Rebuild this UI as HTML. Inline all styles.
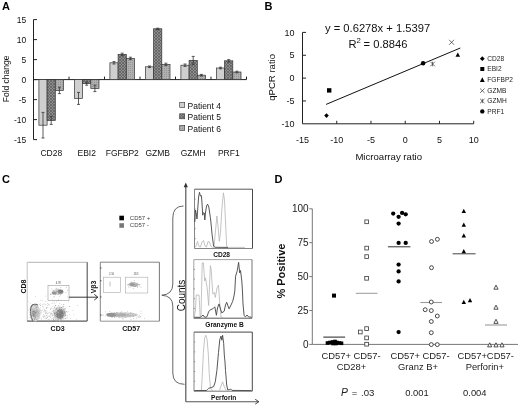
<!DOCTYPE html>
<html><head><meta charset="utf-8"><style>
html,body{margin:0;padding:0;background:#fff;width:520px;height:405px;overflow:hidden}
svg{display:block;filter:grayscale(1)}
text{font-family:"Liberation Sans",sans-serif}
</style></head><body>
<svg width="520" height="405" viewBox="0 0 520 405">
<defs>
<filter id="bl" x="-20%" y="-20%" width="140%" height="140%"><feGaussianBlur stdDeviation="0.7"/></filter>
<pattern id="p5" width="3" height="3" patternUnits="userSpaceOnUse"><rect width="3" height="3" fill="#8e8e8e"/><path d="M0 0L3 3M3 0L0 3" stroke="#5a5a5a" stroke-width="0.7"/></pattern>
<pattern id="p6" width="2" height="2" patternUnits="userSpaceOnUse"><rect width="2" height="2" fill="#b0b0b0"/><rect width="1" height="1" fill="#959595"/></pattern>
</defs>
<rect width="520" height="405" fill="#fff"/>
<text x="2.00" y="10.00" font-size="11" text-anchor="start" font-weight="bold" fill="#000" >A</text>
<line x1="33.50" y1="19.60" x2="33.50" y2="139.60" stroke="#222" stroke-width="1"/>
<line x1="33.50" y1="19.60" x2="37.00" y2="19.60" stroke="#222" stroke-width="1"/>
<text x="26.30" y="22.70" font-size="8.5" text-anchor="end" font-weight="normal" fill="#111" >15</text>
<line x1="33.50" y1="39.60" x2="37.00" y2="39.60" stroke="#222" stroke-width="1"/>
<text x="26.30" y="42.70" font-size="8.5" text-anchor="end" font-weight="normal" fill="#111" >10</text>
<line x1="33.50" y1="59.60" x2="37.00" y2="59.60" stroke="#222" stroke-width="1"/>
<text x="26.30" y="62.70" font-size="8.5" text-anchor="end" font-weight="normal" fill="#111" >5</text>
<line x1="33.50" y1="79.60" x2="37.00" y2="79.60" stroke="#222" stroke-width="1"/>
<text x="26.30" y="82.70" font-size="8.5" text-anchor="end" font-weight="normal" fill="#111" >0</text>
<line x1="33.50" y1="99.60" x2="37.00" y2="99.60" stroke="#222" stroke-width="1"/>
<text x="26.30" y="102.70" font-size="8.5" text-anchor="end" font-weight="normal" fill="#111" >-5</text>
<line x1="33.50" y1="119.60" x2="37.00" y2="119.60" stroke="#222" stroke-width="1"/>
<text x="26.30" y="122.70" font-size="8.5" text-anchor="end" font-weight="normal" fill="#111" >-10</text>
<line x1="33.50" y1="139.60" x2="37.00" y2="139.60" stroke="#222" stroke-width="1"/>
<text x="26.30" y="142.70" font-size="8.5" text-anchor="end" font-weight="normal" fill="#111" >-15</text>
<line x1="33.50" y1="79.60" x2="246.50" y2="79.60" stroke="#222" stroke-width="1"/>
<line x1="69.00" y1="79.60" x2="69.00" y2="76.60" stroke="#222" stroke-width="1"/>
<line x1="104.50" y1="79.60" x2="104.50" y2="76.60" stroke="#222" stroke-width="1"/>
<line x1="140.00" y1="79.60" x2="140.00" y2="76.60" stroke="#222" stroke-width="1"/>
<line x1="175.50" y1="79.60" x2="175.50" y2="76.60" stroke="#222" stroke-width="1"/>
<line x1="211.00" y1="79.60" x2="211.00" y2="76.60" stroke="#222" stroke-width="1"/>
<line x1="246.50" y1="79.60" x2="246.50" y2="76.60" stroke="#222" stroke-width="1"/>
<text transform="translate(8.8,78.9) rotate(-90)" font-size="8.5" text-anchor="middle" fill="#111">Fold change</text>
<text x="51.25" y="155.70" font-size="8.5" text-anchor="middle" font-weight="normal" fill="#111" >CD28</text>
<rect x="38.90" y="79.60" width="8.20" height="45.60" fill="#cfcfcf" stroke="#333" stroke-width="0.7"/>
<line x1="43.00" y1="112.40" x2="43.00" y2="138.00" stroke="#333" stroke-width="0.8"/>
<line x1="41.50" y1="112.40" x2="44.50" y2="112.40" stroke="#333" stroke-width="0.8"/>
<line x1="41.50" y1="138.00" x2="44.50" y2="138.00" stroke="#333" stroke-width="0.8"/>
<rect x="47.10" y="79.60" width="8.20" height="40.80" fill="url(#p5)" stroke="#333" stroke-width="0.7"/>
<line x1="51.20" y1="116.40" x2="51.20" y2="124.40" stroke="#333" stroke-width="0.8"/>
<line x1="49.70" y1="116.40" x2="52.70" y2="116.40" stroke="#333" stroke-width="0.8"/>
<line x1="49.70" y1="124.40" x2="52.70" y2="124.40" stroke="#333" stroke-width="0.8"/>
<rect x="55.30" y="79.60" width="8.20" height="10.80" fill="url(#p6)" stroke="#333" stroke-width="0.7"/>
<line x1="59.40" y1="87.20" x2="59.40" y2="93.60" stroke="#333" stroke-width="0.8"/>
<line x1="57.90" y1="87.20" x2="60.90" y2="87.20" stroke="#333" stroke-width="0.8"/>
<line x1="57.90" y1="93.60" x2="60.90" y2="93.60" stroke="#333" stroke-width="0.8"/>
<text x="86.75" y="155.70" font-size="8.5" text-anchor="middle" font-weight="normal" fill="#111" >EBI2</text>
<rect x="74.40" y="79.60" width="8.20" height="18.80" fill="#cfcfcf" stroke="#333" stroke-width="0.7"/>
<line x1="78.50" y1="92.40" x2="78.50" y2="104.40" stroke="#333" stroke-width="0.8"/>
<line x1="77.00" y1="92.40" x2="80.00" y2="92.40" stroke="#333" stroke-width="0.8"/>
<line x1="77.00" y1="104.40" x2="80.00" y2="104.40" stroke="#333" stroke-width="0.8"/>
<rect x="82.60" y="79.60" width="8.20" height="4.00" fill="url(#p5)" stroke="#333" stroke-width="0.7"/>
<line x1="86.70" y1="82.00" x2="86.70" y2="85.20" stroke="#333" stroke-width="0.8"/>
<line x1="85.20" y1="82.00" x2="88.20" y2="82.00" stroke="#333" stroke-width="0.8"/>
<line x1="85.20" y1="85.20" x2="88.20" y2="85.20" stroke="#333" stroke-width="0.8"/>
<rect x="90.80" y="79.60" width="8.20" height="8.80" fill="url(#p6)" stroke="#333" stroke-width="0.7"/>
<line x1="94.90" y1="85.20" x2="94.90" y2="91.60" stroke="#333" stroke-width="0.8"/>
<line x1="93.40" y1="85.20" x2="96.40" y2="85.20" stroke="#333" stroke-width="0.8"/>
<line x1="93.40" y1="91.60" x2="96.40" y2="91.60" stroke="#333" stroke-width="0.8"/>
<text x="122.25" y="155.70" font-size="8.5" text-anchor="middle" font-weight="normal" fill="#111" >FGFBP2</text>
<rect x="109.90" y="62.80" width="8.20" height="16.80" fill="#cfcfcf" stroke="#333" stroke-width="0.7"/>
<line x1="114.00" y1="61.60" x2="114.00" y2="64.00" stroke="#333" stroke-width="0.8"/>
<line x1="112.50" y1="61.60" x2="115.50" y2="61.60" stroke="#333" stroke-width="0.8"/>
<line x1="112.50" y1="64.00" x2="115.50" y2="64.00" stroke="#333" stroke-width="0.8"/>
<rect x="118.10" y="54.40" width="8.20" height="25.20" fill="url(#p5)" stroke="#333" stroke-width="0.7"/>
<line x1="122.20" y1="53.20" x2="122.20" y2="55.60" stroke="#333" stroke-width="0.8"/>
<line x1="120.70" y1="53.20" x2="123.70" y2="53.20" stroke="#333" stroke-width="0.8"/>
<line x1="120.70" y1="55.60" x2="123.70" y2="55.60" stroke="#333" stroke-width="0.8"/>
<rect x="126.30" y="58.40" width="8.20" height="21.20" fill="url(#p6)" stroke="#333" stroke-width="0.7"/>
<line x1="130.40" y1="57.20" x2="130.40" y2="59.60" stroke="#333" stroke-width="0.8"/>
<line x1="128.90" y1="57.20" x2="131.90" y2="57.20" stroke="#333" stroke-width="0.8"/>
<line x1="128.90" y1="59.60" x2="131.90" y2="59.60" stroke="#333" stroke-width="0.8"/>
<text x="157.75" y="155.70" font-size="8.5" text-anchor="middle" font-weight="normal" fill="#111" >GZMB</text>
<rect x="145.40" y="66.80" width="8.20" height="12.80" fill="#cfcfcf" stroke="#333" stroke-width="0.7"/>
<line x1="149.50" y1="66.00" x2="149.50" y2="67.60" stroke="#333" stroke-width="0.8"/>
<line x1="148.00" y1="66.00" x2="151.00" y2="66.00" stroke="#333" stroke-width="0.8"/>
<line x1="148.00" y1="67.60" x2="151.00" y2="67.60" stroke="#333" stroke-width="0.8"/>
<rect x="153.60" y="28.80" width="8.20" height="50.80" fill="url(#p5)" stroke="#333" stroke-width="0.7"/>
<line x1="157.70" y1="28.20" x2="157.70" y2="29.40" stroke="#333" stroke-width="0.8"/>
<line x1="156.20" y1="28.20" x2="159.20" y2="28.20" stroke="#333" stroke-width="0.8"/>
<line x1="156.20" y1="29.40" x2="159.20" y2="29.40" stroke="#333" stroke-width="0.8"/>
<rect x="161.80" y="64.40" width="8.20" height="15.20" fill="url(#p6)" stroke="#333" stroke-width="0.7"/>
<line x1="165.90" y1="63.20" x2="165.90" y2="65.60" stroke="#333" stroke-width="0.8"/>
<line x1="164.40" y1="63.20" x2="167.40" y2="63.20" stroke="#333" stroke-width="0.8"/>
<line x1="164.40" y1="65.60" x2="167.40" y2="65.60" stroke="#333" stroke-width="0.8"/>
<text x="193.25" y="155.70" font-size="8.5" text-anchor="middle" font-weight="normal" fill="#111" >GZMH</text>
<rect x="180.90" y="65.20" width="8.20" height="14.40" fill="#cfcfcf" stroke="#333" stroke-width="0.7"/>
<line x1="185.00" y1="64.00" x2="185.00" y2="66.40" stroke="#333" stroke-width="0.8"/>
<line x1="183.50" y1="64.00" x2="186.50" y2="64.00" stroke="#333" stroke-width="0.8"/>
<line x1="183.50" y1="66.40" x2="186.50" y2="66.40" stroke="#333" stroke-width="0.8"/>
<rect x="189.10" y="60.40" width="8.20" height="19.20" fill="url(#p5)" stroke="#333" stroke-width="0.7"/>
<line x1="193.20" y1="56.40" x2="193.20" y2="64.40" stroke="#333" stroke-width="0.8"/>
<line x1="191.70" y1="56.40" x2="194.70" y2="56.40" stroke="#333" stroke-width="0.8"/>
<line x1="191.70" y1="64.40" x2="194.70" y2="64.40" stroke="#333" stroke-width="0.8"/>
<rect x="197.30" y="75.20" width="8.20" height="4.40" fill="url(#p6)" stroke="#333" stroke-width="0.7"/>
<line x1="201.40" y1="74.40" x2="201.40" y2="76.00" stroke="#333" stroke-width="0.8"/>
<line x1="199.90" y1="74.40" x2="202.90" y2="74.40" stroke="#333" stroke-width="0.8"/>
<line x1="199.90" y1="76.00" x2="202.90" y2="76.00" stroke="#333" stroke-width="0.8"/>
<text x="228.75" y="155.70" font-size="8.5" text-anchor="middle" font-weight="normal" fill="#111" >PRF1</text>
<rect x="216.40" y="68.00" width="8.20" height="11.60" fill="#cfcfcf" stroke="#333" stroke-width="0.7"/>
<line x1="220.50" y1="67.20" x2="220.50" y2="68.80" stroke="#333" stroke-width="0.8"/>
<line x1="219.00" y1="67.20" x2="222.00" y2="67.20" stroke="#333" stroke-width="0.8"/>
<line x1="219.00" y1="68.80" x2="222.00" y2="68.80" stroke="#333" stroke-width="0.8"/>
<rect x="224.60" y="60.80" width="8.20" height="18.80" fill="url(#p5)" stroke="#333" stroke-width="0.7"/>
<line x1="228.70" y1="59.60" x2="228.70" y2="62.00" stroke="#333" stroke-width="0.8"/>
<line x1="227.20" y1="59.60" x2="230.20" y2="59.60" stroke="#333" stroke-width="0.8"/>
<line x1="227.20" y1="62.00" x2="230.20" y2="62.00" stroke="#333" stroke-width="0.8"/>
<rect x="232.80" y="72.00" width="8.20" height="7.60" fill="url(#p6)" stroke="#333" stroke-width="0.7"/>
<line x1="236.90" y1="71.20" x2="236.90" y2="72.80" stroke="#333" stroke-width="0.8"/>
<line x1="235.40" y1="71.20" x2="238.40" y2="71.20" stroke="#333" stroke-width="0.8"/>
<line x1="235.40" y1="72.80" x2="238.40" y2="72.80" stroke="#333" stroke-width="0.8"/>
<rect x="179.7" y="102.40" width="5" height="5" fill="#cfcfcf" stroke="#333" stroke-width="0.6"/>
<text x="187.50" y="108.70" font-size="8.5" text-anchor="start" font-weight="normal" fill="#111" >Patient 4</text>
<rect x="179.7" y="113.80" width="5" height="5" fill="url(#p5)" stroke="#333" stroke-width="0.6"/>
<text x="187.50" y="120.10" font-size="8.5" text-anchor="start" font-weight="normal" fill="#111" >Patient 5</text>
<rect x="179.7" y="125.40" width="5" height="5" fill="url(#p6)" stroke="#333" stroke-width="0.6"/>
<text x="187.50" y="131.70" font-size="8.5" text-anchor="start" font-weight="normal" fill="#111" >Patient 6</text>
<text x="264.50" y="10.00" font-size="11" text-anchor="start" font-weight="bold" fill="#000" >B</text>
<line x1="302.50" y1="32.40" x2="302.50" y2="123.80" stroke="#222" stroke-width="1"/>
<line x1="302.50" y1="123.80" x2="473.70" y2="123.80" stroke="#222" stroke-width="1"/>
<line x1="302.50" y1="32.40" x2="306.00" y2="32.40" stroke="#222" stroke-width="1"/>
<line x1="302.50" y1="55.25" x2="306.00" y2="55.25" stroke="#222" stroke-width="1"/>
<line x1="302.50" y1="78.10" x2="306.00" y2="78.10" stroke="#222" stroke-width="1"/>
<line x1="302.50" y1="100.95" x2="306.00" y2="100.95" stroke="#222" stroke-width="1"/>
<text x="294.60" y="35.60" font-size="9" text-anchor="end" font-weight="normal" fill="#111" >10</text>
<text x="294.60" y="58.45" font-size="9" text-anchor="end" font-weight="normal" fill="#111" >5</text>
<text x="294.60" y="81.30" font-size="9" text-anchor="end" font-weight="normal" fill="#111" >0</text>
<text x="294.60" y="104.15" font-size="9" text-anchor="end" font-weight="normal" fill="#111" >-5</text>
<text x="294.60" y="127.00" font-size="9" text-anchor="end" font-weight="normal" fill="#111" >-10</text>
<line x1="336.74" y1="123.80" x2="336.74" y2="120.80" stroke="#222" stroke-width="1"/>
<line x1="370.98" y1="123.80" x2="370.98" y2="120.80" stroke="#222" stroke-width="1"/>
<line x1="405.22" y1="123.80" x2="405.22" y2="120.80" stroke="#222" stroke-width="1"/>
<line x1="439.46" y1="123.80" x2="439.46" y2="120.80" stroke="#222" stroke-width="1"/>
<line x1="473.70" y1="123.80" x2="473.70" y2="120.80" stroke="#222" stroke-width="1"/>
<text x="302.50" y="142.80" font-size="9" text-anchor="middle" font-weight="normal" fill="#111" >-15</text>
<text x="336.74" y="142.80" font-size="9" text-anchor="middle" font-weight="normal" fill="#111" >-10</text>
<text x="370.98" y="142.80" font-size="9" text-anchor="middle" font-weight="normal" fill="#111" >-5</text>
<text x="405.22" y="142.80" font-size="9" text-anchor="middle" font-weight="normal" fill="#111" >0</text>
<text x="439.46" y="142.80" font-size="9" text-anchor="middle" font-weight="normal" fill="#111" >5</text>
<text x="473.70" y="142.80" font-size="9" text-anchor="middle" font-weight="normal" fill="#111" >10</text>
<text transform="translate(275.2,77.4) rotate(-90)" font-size="9.6" text-anchor="middle" fill="#111">qPCR ratio</text>
<text x="388.70" y="159.60" font-size="9.6" text-anchor="middle" font-weight="normal" fill="#111" >Microarray ratio</text>
<text x="325.00" y="32.40" font-size="11.2" text-anchor="start" font-weight="normal" fill="#111" >y = 0.6278x + 1.5397</text>
<text x="348.4" y="47.7" font-size="11.2" fill="#111">R<tspan font-size="7.8" dy="-4.9">2</tspan><tspan dy="4.9" dx="-0.4"> = 0.8846</tspan></text>
<line x1="326.10" y1="104.40" x2="460.30" y2="48.00" stroke="#111" stroke-width="1"/>
<path d="M326.5 113.3 L328.8 115.6 L326.5 117.89999999999999 L324.2 115.6 Z" fill="#000"/>
<rect x="327.00" y="88.20" width="4.4" height="4.4" fill="#000" stroke="none" stroke-width="0"/>
<path d="M457.80 52.43 L460.10 56.87 L455.50 56.87 Z" fill="#000" stroke="none" stroke-width="0"/>
<line x1="449.10" y1="39.80" x2="454.10" y2="44.80" stroke="#333" stroke-width="0.7"/>
<line x1="449.10" y1="44.80" x2="454.10" y2="39.80" stroke="#333" stroke-width="0.7"/>
<line x1="430.30" y1="61.70" x2="434.90" y2="66.30" stroke="#333" stroke-width="0.7"/>
<line x1="430.30" y1="66.30" x2="434.90" y2="61.70" stroke="#333" stroke-width="0.7"/>
<line x1="432.60" y1="61.70" x2="432.60" y2="66.30" stroke="#333" stroke-width="0.7"/>
<circle cx="423.10" cy="63.30" r="2.2" fill="#000" stroke="none" stroke-width="0"/>
<path d="M482.3 56.300000000000004 L484.7 58.7 L482.3 61.1 L479.90000000000003 58.7 Z" fill="#000"/>
<text x="487.30" y="61.10" font-size="6.6" text-anchor="start" font-weight="normal" fill="#222" >CD28</text>
<rect x="480.30" y="67.00" width="4.0" height="4.0" fill="#000" stroke="none" stroke-width="0"/>
<text x="487.30" y="71.40" font-size="6.6" text-anchor="start" font-weight="normal" fill="#222" >EBI2</text>
<path d="M482.30 77.34 L484.70 81.96 L479.90 81.96 Z" fill="#000" stroke="none" stroke-width="0"/>
<text x="487.30" y="82.20" font-size="6.6" text-anchor="start" font-weight="normal" fill="#222" >FGFBP2</text>
<line x1="480.10" y1="88.50" x2="484.50" y2="92.90" stroke="#333" stroke-width="0.7"/>
<line x1="480.10" y1="92.90" x2="484.50" y2="88.50" stroke="#333" stroke-width="0.7"/>
<text x="487.30" y="93.10" font-size="6.6" text-anchor="start" font-weight="normal" fill="#222" >GZMB</text>
<line x1="480.10" y1="98.80" x2="484.50" y2="103.20" stroke="#333" stroke-width="0.7"/>
<line x1="480.10" y1="103.20" x2="484.50" y2="98.80" stroke="#333" stroke-width="0.7"/>
<line x1="482.30" y1="98.80" x2="482.30" y2="103.20" stroke="#333" stroke-width="0.7"/>
<text x="487.30" y="103.40" font-size="6.6" text-anchor="start" font-weight="normal" fill="#222" >GZMH</text>
<circle cx="482.30" cy="111.40" r="2.2" fill="#000" stroke="none" stroke-width="0"/>
<text x="487.30" y="113.80" font-size="6.6" text-anchor="start" font-weight="normal" fill="#222" >PRF1</text>
<text x="2.00" y="183.00" font-size="11" text-anchor="start" font-weight="bold" fill="#000" >C</text>
<rect x="119.35" y="215.70" width="4.6" height="4.6" fill="#000" stroke="none" stroke-width="0"/>
<rect x="119.35" y="223.20" width="4.6" height="4.6" fill="#777" stroke="none" stroke-width="0"/>
<text x="129.80" y="219.90" font-size="6" text-anchor="start" font-weight="normal" fill="#444" >CD57 +</text>
<text x="129.80" y="227.40" font-size="6" text-anchor="start" font-weight="normal" fill="#444" >CD57 -</text>
<line x1="27.20" y1="262.30" x2="87.20" y2="262.30" stroke="#aaa" stroke-width="0.9"/>
<line x1="27.20" y1="262.30" x2="27.20" y2="321.10" stroke="#bbb" stroke-width="0.9"/>
<line x1="87.20" y1="262.30" x2="87.20" y2="321.10" stroke="#555" stroke-width="1.1"/>
<line x1="27.20" y1="321.10" x2="87.20" y2="321.10" stroke="#333" stroke-width="1"/>
<rect x="48" y="285.3" width="21" height="15" fill="none" stroke="#999" stroke-width="0.6"/>
<text x="58.30" y="284.30" font-size="2.6" text-anchor="middle" font-weight="normal" fill="#444" >4.78</text>
<line x1="69.00" y1="297.20" x2="97.60" y2="297.20" stroke="#222" stroke-width="0.9"/>
<path d="M94.3 294.4 L97.9 297.2 L94.3 300" fill="none" stroke="#222" stroke-width="0.9"/>
<text transform="translate(26.1,286.6) rotate(-90)" font-size="7" font-weight="bold" text-anchor="middle" fill="#111">CD8</text>
<text x="57.60" y="330.70" font-size="7" text-anchor="middle" font-weight="bold" fill="#111" >CD3</text>
<g filter="url(#bl)">
<ellipse cx="35" cy="313" rx="5.5" ry="8.5" fill="#d6d6d6"/>
<path d="M38 305 Q31 302 30.5 310 Q30.8 318 33 321" fill="none" stroke="#666" stroke-width="1.1"/>
<ellipse cx="33.8" cy="313.5" rx="1.6" ry="3" fill="#999"/>
<ellipse cx="59.5" cy="313.5" rx="6" ry="7" fill="#cfcfcf"/>
<ellipse cx="60" cy="314" rx="3.8" ry="4.8" fill="#8c8c8c"/>
<ellipse cx="57.5" cy="292" rx="6" ry="3" fill="#d8d8d8"/>
<ellipse cx="60.5" cy="291.5" rx="2.8" ry="2" fill="#7a7a7a"/>
<ellipse cx="54" cy="293" rx="2.2" ry="1.5" fill="#909090"/>
</g>
<rect x="44.2" y="315.1" width="0.7" height="0.7" fill="#b8b8b8"/><rect x="44.5" y="310.1" width="0.7" height="0.7" fill="#b8b8b8"/><rect x="36.8" y="310.7" width="0.7" height="0.7" fill="#b8b8b8"/><rect x="59.2" y="314.5" width="0.7" height="0.7" fill="#b8b8b8"/><rect x="58.4" y="313.5" width="0.7" height="0.7" fill="#b8b8b8"/><rect x="51.3" y="313.1" width="0.7" height="0.7" fill="#b8b8b8"/><rect x="28.7" y="317.1" width="0.7" height="0.7" fill="#b8b8b8"/><rect x="52.6" y="315.0" width="0.7" height="0.7" fill="#b8b8b8"/><rect x="28.4" y="301.5" width="0.7" height="0.7" fill="#b8b8b8"/><rect x="37.2" y="309.2" width="0.7" height="0.7" fill="#b8b8b8"/><rect x="50.4" y="311.7" width="0.7" height="0.7" fill="#b8b8b8"/><rect x="52.7" y="308.1" width="0.7" height="0.7" fill="#b8b8b8"/><rect x="50.4" y="314.4" width="0.7" height="0.7" fill="#b8b8b8"/><rect x="53.1" y="319.2" width="0.7" height="0.7" fill="#b8b8b8"/><rect x="40.2" y="307.6" width="0.7" height="0.7" fill="#b8b8b8"/><rect x="43.2" y="311.4" width="0.7" height="0.7" fill="#b8b8b8"/><rect x="54.0" y="313.5" width="0.7" height="0.7" fill="#b8b8b8"/><rect x="42.1" y="306.3" width="0.7" height="0.7" fill="#b8b8b8"/><rect x="41.3" y="319.3" width="0.7" height="0.7" fill="#b8b8b8"/><rect x="38.1" y="313.5" width="0.7" height="0.7" fill="#b8b8b8"/><rect x="51.7" y="303.1" width="0.7" height="0.7" fill="#b8b8b8"/><rect x="47.5" y="319.8" width="0.7" height="0.7" fill="#b8b8b8"/><rect x="45.8" y="307.1" width="0.7" height="0.7" fill="#b8b8b8"/><rect x="52.5" y="311.6" width="0.7" height="0.7" fill="#b8b8b8"/><rect x="30.9" y="317.0" width="0.7" height="0.7" fill="#b8b8b8"/><rect x="54.4" y="317.7" width="0.7" height="0.7" fill="#b8b8b8"/><rect x="62.8" y="314.2" width="0.7" height="0.7" fill="#b8b8b8"/><rect x="48.3" y="304.2" width="0.7" height="0.7" fill="#b8b8b8"/><rect x="53.8" y="308.3" width="0.7" height="0.7" fill="#b8b8b8"/><rect x="42.0" y="304.4" width="0.7" height="0.7" fill="#b8b8b8"/><rect x="36.4" y="308.8" width="0.7" height="0.7" fill="#b8b8b8"/><rect x="61.2" y="299.8" width="0.7" height="0.7" fill="#b8b8b8"/><rect x="31.0" y="313.4" width="0.7" height="0.7" fill="#b8b8b8"/><rect x="62.9" y="315.5" width="0.7" height="0.7" fill="#b8b8b8"/><rect x="50.9" y="307.6" width="0.7" height="0.7" fill="#b8b8b8"/><rect x="34.7" y="317.9" width="0.7" height="0.7" fill="#b8b8b8"/><rect x="59.1" y="312.9" width="0.7" height="0.7" fill="#b8b8b8"/><rect x="49.7" y="314.6" width="0.7" height="0.7" fill="#b8b8b8"/><rect x="64.5" y="315.7" width="0.7" height="0.7" fill="#b8b8b8"/><rect x="52.7" y="315.3" width="0.7" height="0.7" fill="#b8b8b8"/><rect x="29.7" y="319.7" width="0.7" height="0.7" fill="#b8b8b8"/><rect x="57.5" y="315.2" width="0.7" height="0.7" fill="#b8b8b8"/><rect x="56.3" y="301.1" width="0.7" height="0.7" fill="#b8b8b8"/><rect x="45.0" y="318.1" width="0.7" height="0.7" fill="#b8b8b8"/><rect x="53.1" y="311.1" width="0.7" height="0.7" fill="#b8b8b8"/><rect x="50.6" y="315.9" width="0.7" height="0.7" fill="#b8b8b8"/><rect x="48.3" y="318.9" width="0.7" height="0.7" fill="#b8b8b8"/><rect x="39.7" y="309.5" width="0.7" height="0.7" fill="#b8b8b8"/><rect x="58.5" y="312.2" width="0.7" height="0.7" fill="#b8b8b8"/><rect x="37.3" y="317.7" width="0.7" height="0.7" fill="#b8b8b8"/><rect x="63.1" y="309.3" width="0.7" height="0.7" fill="#b8b8b8"/><rect x="31.8" y="311.2" width="0.7" height="0.7" fill="#b8b8b8"/><rect x="45.4" y="310.2" width="0.7" height="0.7" fill="#b8b8b8"/><rect x="62.5" y="305.8" width="0.7" height="0.7" fill="#b8b8b8"/><rect x="60.9" y="304.4" width="0.7" height="0.7" fill="#b8b8b8"/><rect x="38.3" y="315.8" width="0.7" height="0.7" fill="#b8b8b8"/><rect x="59.4" y="317.2" width="0.7" height="0.7" fill="#b8b8b8"/><rect x="50.8" y="312.9" width="0.7" height="0.7" fill="#b8b8b8"/><rect x="48.7" y="315.5" width="0.7" height="0.7" fill="#b8b8b8"/><rect x="45.1" y="313.7" width="0.7" height="0.7" fill="#b8b8b8"/><rect x="53.3" y="312.0" width="0.7" height="0.7" fill="#b8b8b8"/><rect x="55.4" y="315.4" width="0.7" height="0.7" fill="#b8b8b8"/><rect x="69.1" y="313.9" width="0.7" height="0.7" fill="#b8b8b8"/><rect x="42.3" y="309.8" width="0.7" height="0.7" fill="#b8b8b8"/><rect x="46.9" y="317.5" width="0.7" height="0.7" fill="#b8b8b8"/><rect x="43.3" y="314.3" width="0.7" height="0.7" fill="#b8b8b8"/><rect x="67.2" y="296.6" width="0.7" height="0.7" fill="#b8b8b8"/><rect x="34.6" y="313.5" width="0.7" height="0.7" fill="#b8b8b8"/><rect x="51.4" y="313.4" width="0.7" height="0.7" fill="#b8b8b8"/><rect x="42.3" y="315.9" width="0.7" height="0.7" fill="#b8b8b8"/><rect x="50.1" y="308.9" width="0.7" height="0.7" fill="#b8b8b8"/><rect x="73.7" y="314.1" width="0.7" height="0.7" fill="#b8b8b8"/><rect x="40.9" y="311.4" width="0.7" height="0.7" fill="#b8b8b8"/><rect x="44.5" y="311.6" width="0.7" height="0.7" fill="#b8b8b8"/><rect x="58.1" y="305.0" width="0.7" height="0.7" fill="#b8b8b8"/><rect x="46.3" y="317.7" width="0.7" height="0.7" fill="#b8b8b8"/><rect x="56.4" y="320.9" width="0.7" height="0.7" fill="#b8b8b8"/><rect x="28.3" y="309.9" width="0.7" height="0.7" fill="#b8b8b8"/><rect x="43.2" y="315.7" width="0.7" height="0.7" fill="#b8b8b8"/><rect x="59.0" y="295.9" width="0.7" height="0.7" fill="#b8b8b8"/><rect x="59.0" y="303.3" width="0.7" height="0.7" fill="#b8b8b8"/><rect x="54.5" y="303.0" width="0.7" height="0.7" fill="#b8b8b8"/><rect x="48.9" y="319.2" width="0.7" height="0.7" fill="#b8b8b8"/><rect x="45.4" y="313.1" width="0.7" height="0.7" fill="#b8b8b8"/><rect x="55.8" y="312.8" width="0.7" height="0.7" fill="#b8b8b8"/><rect x="58.5" y="310.2" width="0.7" height="0.7" fill="#b8b8b8"/><rect x="77.2" y="305.1" width="0.7" height="0.7" fill="#b8b8b8"/><rect x="57.1" y="310.4" width="0.7" height="0.7" fill="#b8b8b8"/><rect x="48.5" y="316.2" width="0.7" height="0.7" fill="#b8b8b8"/><rect x="49.4" y="315.8" width="0.7" height="0.7" fill="#b8b8b8"/><rect x="30.2" y="302.9" width="0.7" height="0.7" fill="#b8b8b8"/><rect x="53.8" y="306.2" width="0.7" height="0.7" fill="#b8b8b8"/><rect x="35.7" y="303.2" width="0.7" height="0.7" fill="#b8b8b8"/><rect x="60.9" y="316.5" width="0.7" height="0.7" fill="#b8b8b8"/><rect x="63.2" y="306.4" width="0.7" height="0.7" fill="#b8b8b8"/><rect x="47.0" y="305.2" width="0.7" height="0.7" fill="#b8b8b8"/><rect x="57.9" y="310.9" width="0.7" height="0.7" fill="#b8b8b8"/><rect x="45.9" y="308.4" width="0.7" height="0.7" fill="#b8b8b8"/><rect x="51.4" y="314.5" width="0.7" height="0.7" fill="#b8b8b8"/><rect x="63.5" y="305.9" width="0.7" height="0.7" fill="#b8b8b8"/><rect x="59.5" y="320.9" width="0.7" height="0.7" fill="#b8b8b8"/><rect x="63.0" y="310.9" width="0.7" height="0.7" fill="#b8b8b8"/><rect x="38.8" y="318.1" width="0.7" height="0.7" fill="#b8b8b8"/><rect x="48.3" y="312.7" width="0.7" height="0.7" fill="#b8b8b8"/><rect x="62.7" y="310.4" width="0.7" height="0.7" fill="#b8b8b8"/><rect x="50.5" y="308.3" width="0.7" height="0.7" fill="#b8b8b8"/><rect x="46.9" y="317.0" width="0.7" height="0.7" fill="#b8b8b8"/><rect x="47.9" y="320.0" width="0.7" height="0.7" fill="#b8b8b8"/><rect x="46.3" y="318.2" width="0.7" height="0.7" fill="#b8b8b8"/><rect x="39.6" y="317.3" width="0.7" height="0.7" fill="#b8b8b8"/><rect x="33.4" y="311.9" width="0.7" height="0.7" fill="#b8b8b8"/><rect x="44.9" y="311.8" width="0.7" height="0.7" fill="#b8b8b8"/><rect x="40.5" y="313.4" width="0.7" height="0.7" fill="#b8b8b8"/><rect x="66.7" y="312.3" width="0.7" height="0.7" fill="#b8b8b8"/><rect x="52.8" y="318.0" width="0.7" height="0.7" fill="#b8b8b8"/><rect x="44.8" y="304.4" width="0.7" height="0.7" fill="#b8b8b8"/><rect x="40.9" y="318.4" width="0.7" height="0.7" fill="#b8b8b8"/><rect x="28.9" y="308.4" width="0.7" height="0.7" fill="#b8b8b8"/><rect x="58.1" y="316.8" width="0.7" height="0.7" fill="#b8b8b8"/><rect x="47.1" y="316.8" width="0.7" height="0.7" fill="#b8b8b8"/><rect x="48.8" y="304.9" width="0.7" height="0.7" fill="#b8b8b8"/><rect x="29.8" y="308.2" width="0.7" height="0.7" fill="#b8b8b8"/><rect x="57.2" y="308.6" width="0.7" height="0.7" fill="#b8b8b8"/><rect x="37.1" y="307.4" width="0.7" height="0.7" fill="#b8b8b8"/><rect x="30.2" y="311.3" width="0.7" height="0.7" fill="#b8b8b8"/><rect x="34.0" y="314.2" width="0.7" height="0.7" fill="#b8b8b8"/><rect x="39.9" y="300.3" width="0.7" height="0.7" fill="#b8b8b8"/><rect x="55.0" y="310.3" width="0.7" height="0.7" fill="#b8b8b8"/><rect x="50.2" y="309.2" width="0.7" height="0.7" fill="#b8b8b8"/><rect x="55.6" y="316.5" width="0.7" height="0.7" fill="#b8b8b8"/><rect x="54.3" y="314.0" width="0.7" height="0.7" fill="#b8b8b8"/><rect x="61.7" y="316.0" width="0.7" height="0.7" fill="#b8b8b8"/><rect x="52.0" y="299.5" width="0.7" height="0.7" fill="#b8b8b8"/><rect x="56.9" y="319.9" width="0.7" height="0.7" fill="#b8b8b8"/><rect x="43.7" y="309.2" width="0.7" height="0.7" fill="#b8b8b8"/><rect x="68.3" y="301.5" width="0.7" height="0.7" fill="#b8b8b8"/><rect x="36.8" y="316.1" width="0.7" height="0.7" fill="#b8b8b8"/><rect x="67.8" y="311.3" width="0.7" height="0.7" fill="#b8b8b8"/><rect x="53.2" y="317.4" width="0.7" height="0.7" fill="#b8b8b8"/><rect x="37.0" y="311.5" width="0.7" height="0.7" fill="#b8b8b8"/><rect x="50.2" y="317.0" width="0.7" height="0.7" fill="#b8b8b8"/><rect x="46.6" y="310.8" width="0.7" height="0.7" fill="#b8b8b8"/><rect x="35.8" y="309.8" width="0.7" height="0.7" fill="#b8b8b8"/><rect x="56.8" y="312.6" width="0.7" height="0.7" fill="#b8b8b8"/><rect x="37.6" y="307.0" width="0.7" height="0.7" fill="#b8b8b8"/><rect x="76.3" y="318.8" width="0.7" height="0.7" fill="#b8b8b8"/><rect x="54.0" y="296.4" width="0.7" height="0.7" fill="#b8b8b8"/><rect x="53.8" y="314.9" width="0.7" height="0.7" fill="#b8b8b8"/><rect x="65.5" y="314.6" width="0.7" height="0.7" fill="#b8b8b8"/><rect x="46.3" y="315.1" width="0.7" height="0.7" fill="#b8b8b8"/><rect x="50.6" y="307.8" width="0.7" height="0.7" fill="#b8b8b8"/><rect x="31.6" y="308.0" width="0.7" height="0.7" fill="#b8b8b8"/><rect x="50.2" y="313.1" width="0.7" height="0.7" fill="#b8b8b8"/><rect x="42.6" y="306.2" width="0.7" height="0.7" fill="#b8b8b8"/><rect x="70.3" y="318.2" width="0.7" height="0.7" fill="#b8b8b8"/><rect x="33.9" y="303.9" width="0.7" height="0.7" fill="#b8b8b8"/><rect x="65.7" y="317.9" width="0.7" height="0.7" fill="#b8b8b8"/><rect x="67.0" y="316.9" width="0.7" height="0.7" fill="#b8b8b8"/><rect x="37.4" y="313.6" width="0.7" height="0.7" fill="#b8b8b8"/><rect x="46.4" y="315.1" width="0.7" height="0.7" fill="#b8b8b8"/><rect x="39.0" y="311.3" width="0.7" height="0.7" fill="#b8b8b8"/><rect x="52.0" y="314.3" width="0.7" height="0.7" fill="#b8b8b8"/><rect x="54.0" y="313.3" width="0.7" height="0.7" fill="#b8b8b8"/><rect x="43.4" y="316.7" width="0.7" height="0.7" fill="#b8b8b8"/><rect x="47.5" y="307.0" width="0.7" height="0.7" fill="#b8b8b8"/><rect x="40.1" y="312.0" width="0.7" height="0.7" fill="#b8b8b8"/><rect x="45.8" y="312.9" width="0.7" height="0.7" fill="#b8b8b8"/><rect x="47.0" y="313.1" width="0.7" height="0.7" fill="#b8b8b8"/><rect x="45.5" y="304.4" width="0.7" height="0.7" fill="#b8b8b8"/><rect x="51.6" y="318.3" width="0.7" height="0.7" fill="#b8b8b8"/><rect x="51.8" y="310.9" width="0.7" height="0.7" fill="#b8b8b8"/><rect x="51.9" y="306.2" width="0.7" height="0.7" fill="#b8b8b8"/><rect x="36.8" y="316.4" width="0.7" height="0.7" fill="#b8b8b8"/><rect x="35.1" y="296.2" width="0.7" height="0.7" fill="#b8b8b8"/><rect x="42.8" y="303.8" width="0.7" height="0.7" fill="#b8b8b8"/><rect x="38.6" y="315.1" width="0.7" height="0.7" fill="#b8b8b8"/><rect x="52.5" y="313.1" width="0.7" height="0.7" fill="#b8b8b8"/><rect x="63.3" y="316.2" width="0.7" height="0.7" fill="#b8b8b8"/><rect x="46.8" y="315.6" width="0.7" height="0.7" fill="#b8b8b8"/><rect x="65.2" y="317.8" width="0.7" height="0.7" fill="#b8b8b8"/><rect x="58.3" y="305.5" width="0.7" height="0.7" fill="#b8b8b8"/><rect x="45.4" y="316.4" width="0.7" height="0.7" fill="#b8b8b8"/><rect x="43.7" y="318.4" width="0.7" height="0.7" fill="#b8b8b8"/><rect x="53.6" y="317.4" width="0.7" height="0.7" fill="#b8b8b8"/><rect x="60.6" y="310.7" width="0.7" height="0.7" fill="#b8b8b8"/><rect x="43.2" y="317.2" width="0.7" height="0.7" fill="#b8b8b8"/><rect x="57.8" y="312.0" width="0.7" height="0.7" fill="#b8b8b8"/><rect x="34.2" y="313.1" width="0.7" height="0.7" fill="#b8b8b8"/><rect x="51.0" y="318.8" width="0.7" height="0.7" fill="#b8b8b8"/><rect x="55.6" y="312.1" width="0.7" height="0.7" fill="#b8b8b8"/><rect x="56.4" y="315.2" width="0.7" height="0.7" fill="#b8b8b8"/><rect x="49.3" y="312.3" width="0.7" height="0.7" fill="#b8b8b8"/><rect x="44.3" y="316.1" width="0.7" height="0.7" fill="#b8b8b8"/><rect x="35.4" y="308.2" width="0.7" height="0.7" fill="#b8b8b8"/><rect x="47.1" y="303.2" width="0.7" height="0.7" fill="#b8b8b8"/><rect x="42.2" y="299.9" width="0.7" height="0.7" fill="#b8b8b8"/><rect x="39.5" y="315.4" width="0.7" height="0.7" fill="#b8b8b8"/><rect x="53.2" y="311.7" width="0.7" height="0.7" fill="#b8b8b8"/><rect x="44.4" y="303.5" width="0.7" height="0.7" fill="#b8b8b8"/><rect x="67.1" y="315.1" width="0.7" height="0.7" fill="#b8b8b8"/><rect x="59.0" y="306.7" width="0.7" height="0.7" fill="#b8b8b8"/><rect x="45.0" y="301.1" width="0.7" height="0.7" fill="#b8b8b8"/><rect x="55.6" y="317.6" width="0.7" height="0.7" fill="#b8b8b8"/><rect x="53.9" y="301.4" width="0.7" height="0.7" fill="#b8b8b8"/><rect x="40.1" y="303.6" width="0.7" height="0.7" fill="#b8b8b8"/><rect x="47.3" y="313.5" width="0.7" height="0.7" fill="#b8b8b8"/><rect x="54.0" y="316.2" width="0.7" height="0.7" fill="#b8b8b8"/><rect x="63.5" y="319.0" width="0.7" height="0.7" fill="#b8b8b8"/><rect x="32.6" y="309.0" width="0.7" height="0.7" fill="#b8b8b8"/><rect x="35.3" y="305.5" width="0.7" height="0.7" fill="#b8b8b8"/><rect x="46.1" y="312.0" width="0.7" height="0.7" fill="#b8b8b8"/><rect x="52.4" y="302.5" width="0.7" height="0.7" fill="#b8b8b8"/><rect x="33.4" y="311.9" width="0.7" height="0.7" fill="#b8b8b8"/><rect x="44.8" y="310.1" width="0.7" height="0.7" fill="#b8b8b8"/><rect x="46.3" y="307.4" width="0.7" height="0.7" fill="#b8b8b8"/><rect x="54.7" y="314.1" width="0.7" height="0.7" fill="#b8b8b8"/><rect x="46.0" y="308.0" width="0.7" height="0.7" fill="#b8b8b8"/><rect x="45.1" y="295.7" width="0.7" height="0.7" fill="#b8b8b8"/><rect x="36.2" y="312.2" width="0.7" height="0.7" fill="#b8b8b8"/><rect x="30.5" y="313.2" width="0.7" height="0.7" fill="#b8b8b8"/><rect x="48.6" y="303.7" width="0.7" height="0.7" fill="#b8b8b8"/><rect x="44.2" y="310.1" width="0.7" height="0.7" fill="#b8b8b8"/><rect x="52.1" y="315.7" width="0.7" height="0.7" fill="#b8b8b8"/><rect x="46.6" y="306.9" width="0.7" height="0.7" fill="#b8b8b8"/><rect x="45.4" y="311.6" width="0.7" height="0.7" fill="#b8b8b8"/><rect x="55.1" y="313.8" width="0.7" height="0.7" fill="#b8b8b8"/><rect x="39.1" y="303.9" width="0.7" height="0.7" fill="#b8b8b8"/><rect x="42.9" y="307.6" width="0.7" height="0.7" fill="#b8b8b8"/><rect x="34.8" y="311.3" width="0.7" height="0.7" fill="#b8b8b8"/><rect x="41.6" y="312.6" width="0.7" height="0.7" fill="#b8b8b8"/><rect x="52.8" y="309.5" width="0.7" height="0.7" fill="#b8b8b8"/><rect x="72.6" y="310.1" width="0.7" height="0.7" fill="#b8b8b8"/><rect x="59.1" y="312.7" width="0.7" height="0.7" fill="#b8b8b8"/>
<rect x="63.4" y="304.0" width="0.7" height="0.7" fill="#777"/><rect x="56.9" y="314.5" width="0.7" height="0.7" fill="#777"/><rect x="60.6" y="318.6" width="0.7" height="0.7" fill="#777"/><rect x="62.2" y="317.3" width="0.7" height="0.7" fill="#777"/><rect x="61.3" y="312.9" width="0.7" height="0.7" fill="#777"/><rect x="61.3" y="309.2" width="0.7" height="0.7" fill="#777"/><rect x="63.6" y="309.4" width="0.7" height="0.7" fill="#777"/><rect x="58.7" y="313.6" width="0.7" height="0.7" fill="#777"/><rect x="63.6" y="313.6" width="0.7" height="0.7" fill="#777"/><rect x="56.7" y="314.5" width="0.7" height="0.7" fill="#777"/><rect x="61.5" y="316.3" width="0.7" height="0.7" fill="#777"/><rect x="56.8" y="320.5" width="0.7" height="0.7" fill="#777"/><rect x="65.3" y="313.6" width="0.7" height="0.7" fill="#777"/><rect x="60.4" y="311.8" width="0.7" height="0.7" fill="#777"/><rect x="64.4" y="310.7" width="0.7" height="0.7" fill="#777"/><rect x="61.9" y="311.6" width="0.7" height="0.7" fill="#777"/><rect x="57.1" y="316.4" width="0.7" height="0.7" fill="#777"/><rect x="64.2" y="313.5" width="0.7" height="0.7" fill="#777"/><rect x="57.1" y="316.7" width="0.7" height="0.7" fill="#777"/><rect x="59.3" y="314.7" width="0.7" height="0.7" fill="#777"/><rect x="64.8" y="318.0" width="0.7" height="0.7" fill="#777"/><rect x="59.5" y="316.6" width="0.7" height="0.7" fill="#777"/><rect x="57.2" y="313.3" width="0.7" height="0.7" fill="#777"/><rect x="53.4" y="320.6" width="0.7" height="0.7" fill="#777"/><rect x="64.3" y="308.6" width="0.7" height="0.7" fill="#777"/><rect x="54.2" y="307.0" width="0.7" height="0.7" fill="#777"/><rect x="63.6" y="311.7" width="0.7" height="0.7" fill="#777"/><rect x="59.3" y="312.2" width="0.7" height="0.7" fill="#777"/><rect x="59.1" y="309.1" width="0.7" height="0.7" fill="#777"/><rect x="59.6" y="307.7" width="0.7" height="0.7" fill="#777"/><rect x="59.2" y="314.7" width="0.7" height="0.7" fill="#777"/><rect x="61.1" y="312.6" width="0.7" height="0.7" fill="#777"/><rect x="56.3" y="314.1" width="0.7" height="0.7" fill="#777"/><rect x="57.8" y="319.8" width="0.7" height="0.7" fill="#777"/><rect x="62.2" y="313.0" width="0.7" height="0.7" fill="#777"/><rect x="57.9" y="310.7" width="0.7" height="0.7" fill="#777"/><rect x="56.2" y="312.1" width="0.7" height="0.7" fill="#777"/><rect x="60.5" y="315.6" width="0.7" height="0.7" fill="#777"/><rect x="57.0" y="313.6" width="0.7" height="0.7" fill="#777"/><rect x="69.3" y="306.0" width="0.7" height="0.7" fill="#777"/><rect x="57.7" y="314.2" width="0.7" height="0.7" fill="#777"/><rect x="60.0" y="315.1" width="0.7" height="0.7" fill="#777"/><rect x="58.7" y="315.0" width="0.7" height="0.7" fill="#777"/><rect x="59.7" y="316.6" width="0.7" height="0.7" fill="#777"/><rect x="52.9" y="310.0" width="0.7" height="0.7" fill="#777"/><rect x="59.5" y="309.4" width="0.7" height="0.7" fill="#777"/><rect x="55.8" y="316.0" width="0.7" height="0.7" fill="#777"/><rect x="57.2" y="316.0" width="0.7" height="0.7" fill="#777"/><rect x="62.1" y="314.7" width="0.7" height="0.7" fill="#777"/><rect x="61.3" y="313.1" width="0.7" height="0.7" fill="#777"/><rect x="54.6" y="313.4" width="0.7" height="0.7" fill="#777"/><rect x="61.1" y="311.4" width="0.7" height="0.7" fill="#777"/><rect x="59.2" y="316.5" width="0.7" height="0.7" fill="#777"/><rect x="56.4" y="316.1" width="0.7" height="0.7" fill="#777"/><rect x="66.0" y="311.3" width="0.7" height="0.7" fill="#777"/><rect x="60.0" y="312.9" width="0.7" height="0.7" fill="#777"/><rect x="64.9" y="314.8" width="0.7" height="0.7" fill="#777"/><rect x="62.6" y="310.7" width="0.7" height="0.7" fill="#777"/><rect x="59.4" y="313.5" width="0.7" height="0.7" fill="#777"/><rect x="53.3" y="319.3" width="0.7" height="0.7" fill="#777"/><rect x="62.6" y="306.5" width="0.7" height="0.7" fill="#777"/><rect x="62.1" y="313.0" width="0.7" height="0.7" fill="#777"/><rect x="61.1" y="315.0" width="0.7" height="0.7" fill="#777"/><rect x="54.3" y="312.7" width="0.7" height="0.7" fill="#777"/><rect x="64.7" y="311.2" width="0.7" height="0.7" fill="#777"/><rect x="55.9" y="308.1" width="0.7" height="0.7" fill="#777"/><rect x="55.2" y="314.8" width="0.7" height="0.7" fill="#777"/><rect x="65.4" y="315.2" width="0.7" height="0.7" fill="#777"/><rect x="57.7" y="310.8" width="0.7" height="0.7" fill="#777"/><rect x="61.3" y="315.7" width="0.7" height="0.7" fill="#777"/><rect x="55.9" y="308.8" width="0.7" height="0.7" fill="#777"/><rect x="60.5" y="314.5" width="0.7" height="0.7" fill="#777"/><rect x="54.9" y="312.7" width="0.7" height="0.7" fill="#777"/><rect x="57.6" y="315.3" width="0.7" height="0.7" fill="#777"/><rect x="59.1" y="313.2" width="0.7" height="0.7" fill="#777"/><rect x="58.3" y="317.7" width="0.7" height="0.7" fill="#777"/><rect x="64.4" y="312.0" width="0.7" height="0.7" fill="#777"/><rect x="62.5" y="310.5" width="0.7" height="0.7" fill="#777"/><rect x="59.8" y="316.5" width="0.7" height="0.7" fill="#777"/><rect x="64.8" y="312.0" width="0.7" height="0.7" fill="#777"/><rect x="59.2" y="314.3" width="0.7" height="0.7" fill="#777"/><rect x="54.3" y="313.6" width="0.7" height="0.7" fill="#777"/><rect x="57.1" y="315.0" width="0.7" height="0.7" fill="#777"/><rect x="55.5" y="305.6" width="0.7" height="0.7" fill="#777"/><rect x="59.6" y="314.5" width="0.7" height="0.7" fill="#777"/><rect x="57.6" y="317.1" width="0.7" height="0.7" fill="#777"/><rect x="58.5" y="311.1" width="0.7" height="0.7" fill="#777"/><rect x="61.2" y="307.2" width="0.7" height="0.7" fill="#777"/><rect x="57.1" y="313.4" width="0.7" height="0.7" fill="#777"/><rect x="62.5" y="312.8" width="0.7" height="0.7" fill="#777"/><rect x="60.6" y="310.9" width="0.7" height="0.7" fill="#777"/><rect x="60.6" y="320.2" width="0.7" height="0.7" fill="#777"/><rect x="57.2" y="313.6" width="0.7" height="0.7" fill="#777"/><rect x="60.1" y="317.6" width="0.7" height="0.7" fill="#777"/><rect x="55.2" y="305.1" width="0.7" height="0.7" fill="#777"/><rect x="61.6" y="316.7" width="0.7" height="0.7" fill="#777"/><rect x="60.2" y="314.5" width="0.7" height="0.7" fill="#777"/><rect x="62.8" y="315.0" width="0.7" height="0.7" fill="#777"/><rect x="65.3" y="308.5" width="0.7" height="0.7" fill="#777"/><rect x="58.2" y="299.7" width="0.7" height="0.7" fill="#777"/><rect x="62.3" y="312.0" width="0.7" height="0.7" fill="#777"/><rect x="59.5" y="312.5" width="0.7" height="0.7" fill="#777"/><rect x="57.8" y="310.1" width="0.7" height="0.7" fill="#777"/><rect x="57.3" y="316.1" width="0.7" height="0.7" fill="#777"/><rect x="59.6" y="313.8" width="0.7" height="0.7" fill="#777"/><rect x="58.9" y="317.2" width="0.7" height="0.7" fill="#777"/><rect x="61.2" y="312.9" width="0.7" height="0.7" fill="#777"/><rect x="61.8" y="312.9" width="0.7" height="0.7" fill="#777"/><rect x="55.5" y="319.3" width="0.7" height="0.7" fill="#777"/><rect x="61.1" y="309.7" width="0.7" height="0.7" fill="#777"/><rect x="63.3" y="314.9" width="0.7" height="0.7" fill="#777"/><rect x="54.0" y="319.9" width="0.7" height="0.7" fill="#777"/>
<rect x="35.3" y="316.6" width="0.7" height="0.7" fill="#888"/><rect x="35.0" y="312.4" width="0.7" height="0.7" fill="#888"/><rect x="30.6" y="316.9" width="0.7" height="0.7" fill="#888"/><rect x="34.6" y="311.9" width="0.7" height="0.7" fill="#888"/><rect x="35.4" y="313.3" width="0.7" height="0.7" fill="#888"/><rect x="36.2" y="311.5" width="0.7" height="0.7" fill="#888"/><rect x="34.4" y="304.4" width="0.7" height="0.7" fill="#888"/><rect x="33.4" y="315.7" width="0.7" height="0.7" fill="#888"/><rect x="37.8" y="311.5" width="0.7" height="0.7" fill="#888"/><rect x="34.2" y="319.3" width="0.7" height="0.7" fill="#888"/><rect x="33.7" y="315.9" width="0.7" height="0.7" fill="#888"/><rect x="38.7" y="313.2" width="0.7" height="0.7" fill="#888"/><rect x="37.6" y="310.2" width="0.7" height="0.7" fill="#888"/><rect x="35.0" y="312.7" width="0.7" height="0.7" fill="#888"/><rect x="34.8" y="317.5" width="0.7" height="0.7" fill="#888"/><rect x="40.5" y="310.3" width="0.7" height="0.7" fill="#888"/><rect x="33.1" y="315.0" width="0.7" height="0.7" fill="#888"/><rect x="31.9" y="315.0" width="0.7" height="0.7" fill="#888"/><rect x="35.9" y="311.9" width="0.7" height="0.7" fill="#888"/><rect x="35.8" y="306.8" width="0.7" height="0.7" fill="#888"/><rect x="36.4" y="306.8" width="0.7" height="0.7" fill="#888"/><rect x="32.8" y="310.8" width="0.7" height="0.7" fill="#888"/><rect x="33.5" y="316.4" width="0.7" height="0.7" fill="#888"/><rect x="34.7" y="311.4" width="0.7" height="0.7" fill="#888"/><rect x="35.9" y="319.3" width="0.7" height="0.7" fill="#888"/><rect x="34.5" y="314.5" width="0.7" height="0.7" fill="#888"/><rect x="37.6" y="314.1" width="0.7" height="0.7" fill="#888"/><rect x="40.0" y="305.1" width="0.7" height="0.7" fill="#888"/><rect x="34.4" y="314.7" width="0.7" height="0.7" fill="#888"/><rect x="36.9" y="315.7" width="0.7" height="0.7" fill="#888"/><rect x="33.8" y="308.8" width="0.7" height="0.7" fill="#888"/><rect x="34.8" y="317.1" width="0.7" height="0.7" fill="#888"/><rect x="31.8" y="308.9" width="0.7" height="0.7" fill="#888"/><rect x="34.4" y="305.3" width="0.7" height="0.7" fill="#888"/><rect x="33.8" y="311.3" width="0.7" height="0.7" fill="#888"/><rect x="35.6" y="310.2" width="0.7" height="0.7" fill="#888"/><rect x="32.3" y="311.4" width="0.7" height="0.7" fill="#888"/><rect x="34.4" y="310.3" width="0.7" height="0.7" fill="#888"/><rect x="34.5" y="316.0" width="0.7" height="0.7" fill="#888"/><rect x="37.5" y="319.8" width="0.7" height="0.7" fill="#888"/><rect x="32.5" y="311.3" width="0.7" height="0.7" fill="#888"/><rect x="28.3" y="320.6" width="0.7" height="0.7" fill="#888"/><rect x="32.7" y="312.9" width="0.7" height="0.7" fill="#888"/><rect x="35.8" y="307.6" width="0.7" height="0.7" fill="#888"/><rect x="35.7" y="312.9" width="0.7" height="0.7" fill="#888"/><rect x="29.9" y="314.2" width="0.7" height="0.7" fill="#888"/><rect x="37.5" y="305.5" width="0.7" height="0.7" fill="#888"/><rect x="36.5" y="313.8" width="0.7" height="0.7" fill="#888"/><rect x="35.7" y="314.8" width="0.7" height="0.7" fill="#888"/><rect x="37.8" y="312.1" width="0.7" height="0.7" fill="#888"/><rect x="36.7" y="311.4" width="0.7" height="0.7" fill="#888"/><rect x="36.3" y="309.7" width="0.7" height="0.7" fill="#888"/><rect x="34.2" y="319.9" width="0.7" height="0.7" fill="#888"/><rect x="35.6" y="312.4" width="0.7" height="0.7" fill="#888"/><rect x="31.6" y="309.8" width="0.7" height="0.7" fill="#888"/><rect x="35.0" y="316.8" width="0.7" height="0.7" fill="#888"/><rect x="35.6" y="315.1" width="0.7" height="0.7" fill="#888"/><rect x="34.4" y="318.4" width="0.7" height="0.7" fill="#888"/><rect x="33.5" y="310.8" width="0.7" height="0.7" fill="#888"/>
<rect x="60.6" y="292.1" width="0.7" height="0.7" fill="#999"/><rect x="55.9" y="290.8" width="0.7" height="0.7" fill="#999"/><rect x="56.0" y="293.2" width="0.7" height="0.7" fill="#999"/><rect x="58.4" y="289.6" width="0.7" height="0.7" fill="#999"/><rect x="58.7" y="292.4" width="0.7" height="0.7" fill="#999"/><rect x="53.0" y="293.5" width="0.7" height="0.7" fill="#999"/><rect x="55.9" y="291.3" width="0.7" height="0.7" fill="#999"/><rect x="60.2" y="294.6" width="0.7" height="0.7" fill="#999"/><rect x="54.2" y="292.9" width="0.7" height="0.7" fill="#999"/><rect x="53.5" y="296.6" width="0.7" height="0.7" fill="#999"/><rect x="55.0" y="294.4" width="0.7" height="0.7" fill="#999"/><rect x="54.4" y="293.6" width="0.7" height="0.7" fill="#999"/><rect x="65.9" y="286.9" width="0.7" height="0.7" fill="#999"/><rect x="55.3" y="293.0" width="0.7" height="0.7" fill="#999"/><rect x="56.6" y="290.7" width="0.7" height="0.7" fill="#999"/><rect x="65.6" y="292.2" width="0.7" height="0.7" fill="#999"/><rect x="50.4" y="293.7" width="0.7" height="0.7" fill="#999"/><rect x="50.1" y="294.3" width="0.7" height="0.7" fill="#999"/><rect x="54.7" y="292.3" width="0.7" height="0.7" fill="#999"/><rect x="62.0" y="292.2" width="0.7" height="0.7" fill="#999"/><rect x="51.4" y="288.6" width="0.7" height="0.7" fill="#999"/><rect x="61.7" y="293.5" width="0.7" height="0.7" fill="#999"/><rect x="53.7" y="293.7" width="0.7" height="0.7" fill="#999"/><rect x="59.0" y="293.3" width="0.7" height="0.7" fill="#999"/><rect x="60.6" y="293.5" width="0.7" height="0.7" fill="#999"/><rect x="60.5" y="287.1" width="0.7" height="0.7" fill="#999"/><rect x="57.7" y="293.0" width="0.7" height="0.7" fill="#999"/><rect x="67.2" y="290.1" width="0.7" height="0.7" fill="#999"/><rect x="55.7" y="292.1" width="0.7" height="0.7" fill="#999"/><rect x="60.5" y="291.1" width="0.7" height="0.7" fill="#999"/><rect x="61.6" y="290.4" width="0.7" height="0.7" fill="#999"/><rect x="58.1" y="290.9" width="0.7" height="0.7" fill="#999"/><rect x="57.6" y="290.6" width="0.7" height="0.7" fill="#999"/><rect x="50.6" y="294.2" width="0.7" height="0.7" fill="#999"/><rect x="58.2" y="290.9" width="0.7" height="0.7" fill="#999"/><rect x="57.8" y="294.0" width="0.7" height="0.7" fill="#999"/><rect x="53.1" y="291.8" width="0.7" height="0.7" fill="#999"/><rect x="59.2" y="293.1" width="0.7" height="0.7" fill="#999"/><rect x="55.7" y="287.8" width="0.7" height="0.7" fill="#999"/><rect x="62.0" y="292.7" width="0.7" height="0.7" fill="#999"/><rect x="57.1" y="291.4" width="0.7" height="0.7" fill="#999"/><rect x="58.1" y="291.1" width="0.7" height="0.7" fill="#999"/><rect x="52.9" y="290.5" width="0.7" height="0.7" fill="#999"/><rect x="54.6" y="290.8" width="0.7" height="0.7" fill="#999"/><rect x="52.4" y="293.3" width="0.7" height="0.7" fill="#999"/><rect x="51.8" y="293.3" width="0.7" height="0.7" fill="#999"/><rect x="52.9" y="292.7" width="0.7" height="0.7" fill="#999"/><rect x="62.5" y="292.4" width="0.7" height="0.7" fill="#999"/><rect x="54.1" y="292.1" width="0.7" height="0.7" fill="#999"/><rect x="57.6" y="288.5" width="0.7" height="0.7" fill="#999"/><rect x="54.6" y="292.3" width="0.7" height="0.7" fill="#999"/><rect x="55.1" y="292.2" width="0.7" height="0.7" fill="#999"/><rect x="59.9" y="293.5" width="0.7" height="0.7" fill="#999"/><rect x="60.6" y="293.2" width="0.7" height="0.7" fill="#999"/><rect x="55.8" y="292.0" width="0.7" height="0.7" fill="#999"/><rect x="55.9" y="291.4" width="0.7" height="0.7" fill="#999"/><rect x="56.3" y="288.6" width="0.7" height="0.7" fill="#999"/><rect x="55.7" y="292.0" width="0.7" height="0.7" fill="#999"/><rect x="53.1" y="292.0" width="0.7" height="0.7" fill="#999"/>
<line x1="100.30" y1="262.20" x2="159.40" y2="262.20" stroke="#777" stroke-width="0.9"/>
<line x1="100.30" y1="262.20" x2="100.30" y2="321.20" stroke="#777" stroke-width="0.9"/>
<line x1="159.40" y1="262.20" x2="159.40" y2="321.20" stroke="#666" stroke-width="0.9"/>
<line x1="100.30" y1="321.20" x2="159.40" y2="321.20" stroke="#888" stroke-width="0.9"/>
<rect x="103.3" y="277.2" width="17.1" height="15.4" fill="none" stroke="#aaa" stroke-width="0.6"/>
<rect x="125.3" y="277.2" width="22.5" height="15.8" fill="none" stroke="#aaa" stroke-width="0.6"/>
<text x="111.50" y="275.40" font-size="2.6" text-anchor="middle" font-weight="normal" fill="#444" >2.16</text>
<text x="136.00" y="275.40" font-size="2.6" text-anchor="middle" font-weight="normal" fill="#444" >18.5</text>
<g filter="url(#bl)">
<ellipse cx="122" cy="314.8" rx="16" ry="2.6" fill="#d0d0d0"/>
<ellipse cx="111.5" cy="314.8" rx="5" ry="2" fill="#8f8f8f"/>
<ellipse cx="121" cy="314.8" rx="5" ry="1.6" fill="#b0b0b0"/>
<ellipse cx="133.5" cy="284.5" rx="5.5" ry="2.2" fill="#c2c2c2"/>
<ellipse cx="132" cy="284.5" rx="2.5" ry="1.3" fill="#999"/>
<ellipse cx="110" cy="284" rx="1.2" ry="3" fill="#e0e0e0"/>
</g>
<rect x="126.6" y="314.7" width="0.7" height="0.7" fill="#aaa"/><rect x="140.7" y="310.8" width="0.7" height="0.7" fill="#aaa"/><rect x="120.1" y="312.1" width="0.7" height="0.7" fill="#aaa"/><rect x="130.8" y="319.2" width="0.7" height="0.7" fill="#aaa"/><rect x="126.7" y="314.5" width="0.7" height="0.7" fill="#aaa"/><rect x="127.0" y="311.4" width="0.7" height="0.7" fill="#aaa"/><rect x="129.7" y="315.6" width="0.7" height="0.7" fill="#aaa"/><rect x="122.2" y="314.1" width="0.7" height="0.7" fill="#aaa"/><rect x="127.7" y="314.2" width="0.7" height="0.7" fill="#aaa"/><rect x="124.0" y="314.2" width="0.7" height="0.7" fill="#aaa"/><rect x="101.8" y="314.9" width="0.7" height="0.7" fill="#aaa"/><rect x="123.8" y="316.2" width="0.7" height="0.7" fill="#aaa"/><rect x="114.1" y="314.9" width="0.7" height="0.7" fill="#aaa"/><rect x="127.6" y="315.2" width="0.7" height="0.7" fill="#aaa"/><rect x="133.2" y="318.2" width="0.7" height="0.7" fill="#aaa"/><rect x="113.8" y="311.9" width="0.7" height="0.7" fill="#aaa"/><rect x="129.7" y="317.4" width="0.7" height="0.7" fill="#aaa"/><rect x="130.3" y="316.3" width="0.7" height="0.7" fill="#aaa"/><rect x="116.4" y="313.9" width="0.7" height="0.7" fill="#aaa"/><rect x="130.0" y="313.5" width="0.7" height="0.7" fill="#aaa"/><rect x="105.7" y="313.4" width="0.7" height="0.7" fill="#aaa"/><rect x="144.4" y="318.1" width="0.7" height="0.7" fill="#aaa"/><rect x="115.8" y="313.8" width="0.7" height="0.7" fill="#aaa"/><rect x="124.1" y="313.8" width="0.7" height="0.7" fill="#aaa"/><rect x="133.8" y="314.9" width="0.7" height="0.7" fill="#aaa"/><rect x="112.2" y="317.1" width="0.7" height="0.7" fill="#aaa"/><rect x="116.8" y="315.4" width="0.7" height="0.7" fill="#aaa"/><rect x="121.9" y="314.5" width="0.7" height="0.7" fill="#aaa"/><rect x="124.9" y="313.9" width="0.7" height="0.7" fill="#aaa"/><rect x="105.4" y="311.5" width="0.7" height="0.7" fill="#aaa"/><rect x="110.6" y="313.8" width="0.7" height="0.7" fill="#aaa"/><rect x="121.8" y="315.1" width="0.7" height="0.7" fill="#aaa"/><rect x="127.0" y="315.2" width="0.7" height="0.7" fill="#aaa"/><rect x="114.9" y="313.9" width="0.7" height="0.7" fill="#aaa"/><rect x="102.9" y="314.7" width="0.7" height="0.7" fill="#aaa"/><rect x="126.4" y="315.8" width="0.7" height="0.7" fill="#aaa"/><rect x="120.9" y="314.7" width="0.7" height="0.7" fill="#aaa"/><rect x="130.4" y="315.0" width="0.7" height="0.7" fill="#aaa"/><rect x="128.6" y="315.9" width="0.7" height="0.7" fill="#aaa"/><rect x="123.9" y="317.1" width="0.7" height="0.7" fill="#aaa"/><rect x="116.8" y="314.4" width="0.7" height="0.7" fill="#aaa"/><rect x="114.7" y="313.7" width="0.7" height="0.7" fill="#aaa"/><rect x="136.0" y="317.8" width="0.7" height="0.7" fill="#aaa"/><rect x="122.2" y="315.9" width="0.7" height="0.7" fill="#aaa"/><rect x="132.6" y="316.3" width="0.7" height="0.7" fill="#aaa"/><rect x="132.8" y="313.0" width="0.7" height="0.7" fill="#aaa"/><rect x="116.2" y="315.7" width="0.7" height="0.7" fill="#aaa"/><rect x="134.9" y="315.2" width="0.7" height="0.7" fill="#aaa"/><rect x="114.3" y="314.4" width="0.7" height="0.7" fill="#aaa"/><rect x="116.1" y="313.6" width="0.7" height="0.7" fill="#aaa"/><rect x="135.5" y="314.0" width="0.7" height="0.7" fill="#aaa"/><rect x="122.2" y="318.5" width="0.7" height="0.7" fill="#aaa"/><rect x="132.7" y="315.5" width="0.7" height="0.7" fill="#aaa"/><rect x="116.5" y="315.7" width="0.7" height="0.7" fill="#aaa"/><rect x="136.6" y="316.0" width="0.7" height="0.7" fill="#aaa"/><rect x="133.4" y="315.2" width="0.7" height="0.7" fill="#aaa"/><rect x="126.6" y="314.7" width="0.7" height="0.7" fill="#aaa"/><rect x="125.8" y="317.1" width="0.7" height="0.7" fill="#aaa"/><rect x="109.1" y="314.9" width="0.7" height="0.7" fill="#aaa"/><rect x="124.2" y="314.1" width="0.7" height="0.7" fill="#aaa"/><rect x="119.2" y="316.3" width="0.7" height="0.7" fill="#aaa"/><rect x="140.0" y="316.0" width="0.7" height="0.7" fill="#aaa"/><rect x="124.9" y="312.5" width="0.7" height="0.7" fill="#aaa"/><rect x="139.3" y="315.1" width="0.7" height="0.7" fill="#aaa"/><rect x="121.7" y="313.2" width="0.7" height="0.7" fill="#aaa"/><rect x="121.5" y="313.2" width="0.7" height="0.7" fill="#aaa"/><rect x="122.6" y="315.7" width="0.7" height="0.7" fill="#aaa"/><rect x="122.3" y="315.4" width="0.7" height="0.7" fill="#aaa"/><rect x="114.3" y="317.3" width="0.7" height="0.7" fill="#aaa"/><rect x="116.1" y="312.1" width="0.7" height="0.7" fill="#aaa"/><rect x="120.3" y="313.8" width="0.7" height="0.7" fill="#aaa"/><rect x="112.9" y="314.4" width="0.7" height="0.7" fill="#aaa"/><rect x="124.6" y="313.1" width="0.7" height="0.7" fill="#aaa"/><rect x="120.8" y="317.3" width="0.7" height="0.7" fill="#aaa"/><rect x="128.1" y="314.8" width="0.7" height="0.7" fill="#aaa"/><rect x="123.1" y="314.8" width="0.7" height="0.7" fill="#aaa"/><rect x="121.6" y="316.2" width="0.7" height="0.7" fill="#aaa"/><rect x="121.2" y="311.2" width="0.7" height="0.7" fill="#aaa"/><rect x="121.8" y="313.6" width="0.7" height="0.7" fill="#aaa"/><rect x="127.9" y="314.0" width="0.7" height="0.7" fill="#aaa"/><rect x="123.3" y="318.5" width="0.7" height="0.7" fill="#aaa"/><rect x="112.6" y="313.2" width="0.7" height="0.7" fill="#aaa"/><rect x="109.3" y="311.2" width="0.7" height="0.7" fill="#aaa"/><rect x="105.1" y="315.6" width="0.7" height="0.7" fill="#aaa"/><rect x="116.3" y="312.0" width="0.7" height="0.7" fill="#aaa"/><rect x="108.7" y="316.0" width="0.7" height="0.7" fill="#aaa"/><rect x="115.0" y="314.4" width="0.7" height="0.7" fill="#aaa"/><rect x="125.0" y="317.2" width="0.7" height="0.7" fill="#aaa"/><rect x="139.5" y="316.7" width="0.7" height="0.7" fill="#aaa"/><rect x="123.3" y="315.3" width="0.7" height="0.7" fill="#aaa"/><rect x="138.2" y="317.3" width="0.7" height="0.7" fill="#aaa"/><rect x="119.2" y="315.7" width="0.7" height="0.7" fill="#aaa"/><rect x="124.6" y="315.1" width="0.7" height="0.7" fill="#aaa"/><rect x="117.5" y="312.9" width="0.7" height="0.7" fill="#aaa"/><rect x="117.2" y="312.5" width="0.7" height="0.7" fill="#aaa"/><rect x="133.0" y="315.9" width="0.7" height="0.7" fill="#aaa"/><rect x="111.1" y="317.2" width="0.7" height="0.7" fill="#aaa"/><rect x="130.0" y="311.9" width="0.7" height="0.7" fill="#aaa"/><rect x="138.6" y="316.3" width="0.7" height="0.7" fill="#aaa"/><rect x="140.6" y="313.0" width="0.7" height="0.7" fill="#aaa"/><rect x="126.8" y="315.7" width="0.7" height="0.7" fill="#aaa"/><rect x="123.8" y="315.3" width="0.7" height="0.7" fill="#aaa"/><rect x="131.5" y="312.6" width="0.7" height="0.7" fill="#aaa"/><rect x="110.8" y="312.8" width="0.7" height="0.7" fill="#aaa"/><rect x="117.0" y="314.0" width="0.7" height="0.7" fill="#aaa"/><rect x="125.3" y="315.4" width="0.7" height="0.7" fill="#aaa"/><rect x="122.3" y="313.9" width="0.7" height="0.7" fill="#aaa"/><rect x="118.0" y="316.5" width="0.7" height="0.7" fill="#aaa"/><rect x="128.9" y="315.2" width="0.7" height="0.7" fill="#aaa"/><rect x="119.1" y="317.5" width="0.7" height="0.7" fill="#aaa"/><rect x="116.7" y="316.0" width="0.7" height="0.7" fill="#aaa"/><rect x="132.4" y="314.6" width="0.7" height="0.7" fill="#aaa"/><rect x="129.4" y="313.2" width="0.7" height="0.7" fill="#aaa"/><rect x="131.1" y="315.3" width="0.7" height="0.7" fill="#aaa"/><rect x="107.7" y="316.1" width="0.7" height="0.7" fill="#aaa"/><rect x="114.0" y="317.1" width="0.7" height="0.7" fill="#aaa"/><rect x="115.9" y="314.7" width="0.7" height="0.7" fill="#aaa"/><rect x="124.5" y="314.5" width="0.7" height="0.7" fill="#aaa"/><rect x="124.3" y="314.1" width="0.7" height="0.7" fill="#aaa"/>
<rect x="135.9" y="284.5" width="0.7" height="0.7" fill="#999"/><rect x="134.2" y="280.4" width="0.7" height="0.7" fill="#999"/><rect x="137.6" y="284.5" width="0.7" height="0.7" fill="#999"/><rect x="127.3" y="284.6" width="0.7" height="0.7" fill="#999"/><rect x="135.1" y="286.1" width="0.7" height="0.7" fill="#999"/><rect x="129.7" y="286.8" width="0.7" height="0.7" fill="#999"/><rect x="132.9" y="288.1" width="0.7" height="0.7" fill="#999"/><rect x="133.0" y="285.5" width="0.7" height="0.7" fill="#999"/><rect x="132.2" y="282.8" width="0.7" height="0.7" fill="#999"/><rect x="137.3" y="285.9" width="0.7" height="0.7" fill="#999"/><rect x="138.9" y="285.8" width="0.7" height="0.7" fill="#999"/><rect x="131.5" y="282.0" width="0.7" height="0.7" fill="#999"/><rect x="131.2" y="283.5" width="0.7" height="0.7" fill="#999"/><rect x="130.6" y="285.4" width="0.7" height="0.7" fill="#999"/><rect x="134.6" y="284.1" width="0.7" height="0.7" fill="#999"/><rect x="134.1" y="284.3" width="0.7" height="0.7" fill="#999"/><rect x="134.2" y="285.6" width="0.7" height="0.7" fill="#999"/><rect x="136.9" y="283.5" width="0.7" height="0.7" fill="#999"/><rect x="128.2" y="286.6" width="0.7" height="0.7" fill="#999"/><rect x="133.9" y="286.2" width="0.7" height="0.7" fill="#999"/><rect x="127.7" y="284.0" width="0.7" height="0.7" fill="#999"/><rect x="133.6" y="282.3" width="0.7" height="0.7" fill="#999"/><rect x="131.7" y="285.6" width="0.7" height="0.7" fill="#999"/><rect x="137.3" y="286.9" width="0.7" height="0.7" fill="#999"/><rect x="130.5" y="282.4" width="0.7" height="0.7" fill="#999"/><rect x="135.3" y="285.9" width="0.7" height="0.7" fill="#999"/><rect x="134.2" y="282.5" width="0.7" height="0.7" fill="#999"/><rect x="136.2" y="285.7" width="0.7" height="0.7" fill="#999"/><rect x="135.4" y="283.8" width="0.7" height="0.7" fill="#999"/><rect x="134.6" y="285.7" width="0.7" height="0.7" fill="#999"/><rect x="131.5" y="281.7" width="0.7" height="0.7" fill="#999"/><rect x="134.7" y="285.2" width="0.7" height="0.7" fill="#999"/><rect x="133.5" y="285.8" width="0.7" height="0.7" fill="#999"/><rect x="131.4" y="284.4" width="0.7" height="0.7" fill="#999"/><rect x="132.4" y="285.4" width="0.7" height="0.7" fill="#999"/><rect x="139.1" y="284.1" width="0.7" height="0.7" fill="#999"/><rect x="140.7" y="286.8" width="0.7" height="0.7" fill="#999"/><rect x="136.3" y="285.4" width="0.7" height="0.7" fill="#999"/><rect x="139.7" y="284.2" width="0.7" height="0.7" fill="#999"/><rect x="133.1" y="282.9" width="0.7" height="0.7" fill="#999"/>
<line x1="100.00" y1="268.00" x2="101.50" y2="268.00" stroke="#333" stroke-width="0.8"/>
<line x1="100.00" y1="280.80" x2="101.50" y2="280.80" stroke="#333" stroke-width="0.8"/>
<line x1="100.00" y1="297.00" x2="101.50" y2="297.00" stroke="#333" stroke-width="0.8"/>
<line x1="100.00" y1="315.00" x2="101.50" y2="315.00" stroke="#333" stroke-width="0.8"/>
<text transform="translate(96.4,286.9) rotate(-90)" font-size="7" font-weight="bold" text-anchor="middle" fill="#111">V&#946;3</text>
<text x="131.20" y="330.80" font-size="7" text-anchor="middle" font-weight="bold" fill="#111" >CD57</text>
<path d="M183.5 206 Q172.8 206 172.8 218 L172.8 284 Q172.8 294.5 161.8 295.2 Q172.8 296 172.8 306 L172.8 373 Q172.8 384.3 184.5 384.3" fill="none" stroke="#555" stroke-width="0.9"/>
<line x1="185.80" y1="401.70" x2="185.80" y2="186.00" stroke="#555" stroke-width="1.2"/>
<path d="M185.8 182.4 L183.7 187.2 L187.9 187.2 Z" fill="#333"/>
<line x1="185.80" y1="401.70" x2="258.50" y2="401.70" stroke="#555" stroke-width="1.1"/>
<path d="M255.2 399.3 L258.9 401.7 L255.2 404.1" fill="none" stroke="#333" stroke-width="0.9"/>
<text transform="translate(184.9,295.5) rotate(-90)" font-size="10" text-anchor="middle" fill="#111">Counts</text>
<line x1="194.50" y1="189.20" x2="252.50" y2="189.20" stroke="#444" stroke-width="0.9"/>
<line x1="194.50" y1="189.20" x2="194.50" y2="248.50" stroke="#777" stroke-width="0.9"/>
<line x1="252.50" y1="189.20" x2="252.50" y2="248.50" stroke="#333" stroke-width="0.9"/>
<line x1="194.50" y1="248.50" x2="252.50" y2="248.50" stroke="#777" stroke-width="0.9"/>
<line x1="194.50" y1="199.08" x2="195.70" y2="199.08" stroke="#666" stroke-width="0.6"/>
<line x1="194.50" y1="208.97" x2="195.70" y2="208.97" stroke="#666" stroke-width="0.6"/>
<line x1="194.50" y1="218.85" x2="195.70" y2="218.85" stroke="#666" stroke-width="0.6"/>
<line x1="194.50" y1="228.73" x2="195.70" y2="228.73" stroke="#666" stroke-width="0.6"/>
<line x1="194.50" y1="238.62" x2="195.70" y2="238.62" stroke="#666" stroke-width="0.6"/>
<line x1="193.80" y1="259.60" x2="252.00" y2="259.60" stroke="#999" stroke-width="0.9"/>
<line x1="193.80" y1="259.60" x2="193.80" y2="318.20" stroke="#999" stroke-width="0.9"/>
<line x1="252.00" y1="259.60" x2="252.00" y2="318.20" stroke="#666" stroke-width="0.9"/>
<line x1="193.80" y1="318.20" x2="252.00" y2="318.20" stroke="#444" stroke-width="0.9"/>
<line x1="193.80" y1="269.37" x2="195.00" y2="269.37" stroke="#666" stroke-width="0.6"/>
<line x1="193.80" y1="279.13" x2="195.00" y2="279.13" stroke="#666" stroke-width="0.6"/>
<line x1="193.80" y1="288.90" x2="195.00" y2="288.90" stroke="#666" stroke-width="0.6"/>
<line x1="193.80" y1="298.67" x2="195.00" y2="298.67" stroke="#666" stroke-width="0.6"/>
<line x1="193.80" y1="308.43" x2="195.00" y2="308.43" stroke="#666" stroke-width="0.6"/>
<line x1="194.00" y1="332.10" x2="252.30" y2="332.10" stroke="#333" stroke-width="0.9"/>
<line x1="194.00" y1="332.10" x2="194.00" y2="391.20" stroke="#777" stroke-width="0.9"/>
<line x1="252.30" y1="332.10" x2="252.30" y2="391.20" stroke="#333" stroke-width="0.9"/>
<line x1="194.00" y1="391.20" x2="252.30" y2="391.20" stroke="#666" stroke-width="0.9"/>
<line x1="194.00" y1="341.95" x2="195.20" y2="341.95" stroke="#666" stroke-width="0.6"/>
<line x1="194.00" y1="351.80" x2="195.20" y2="351.80" stroke="#666" stroke-width="0.6"/>
<line x1="194.00" y1="361.65" x2="195.20" y2="361.65" stroke="#666" stroke-width="0.6"/>
<line x1="194.00" y1="371.50" x2="195.20" y2="371.50" stroke="#666" stroke-width="0.6"/>
<line x1="194.00" y1="381.35" x2="195.20" y2="381.35" stroke="#666" stroke-width="0.6"/>
<text x="221.60" y="256.80" font-size="6.6" text-anchor="middle" font-weight="bold" fill="#111" >CD28</text>
<text x="224.50" y="327.40" font-size="6.6" text-anchor="middle" font-weight="bold" fill="#111" >Granzyme B</text>
<text x="223.70" y="399.70" font-size="6.6" text-anchor="middle" font-weight="bold" fill="#111" >Perforin</text>
<path d="M195.0 247.4 L196.0 246.0 L197.5 241.5 L199.0 246.5 L200.5 247.0 L202.0 242.0 L203.5 240.5 L205.0 246.0 L206.5 247.0 L208.0 241.5 L209.5 242.0 L211.0 246.5 L212.5 247.2 L214.0 247.2 L215.0 236.0 L216.9 216.0 L218.0 226.0 L219.3 241.2 L220.5 232.0 L221.8 210.0 L223.4 192.8 L224.5 200.0 L225.5 222.0 L226.7 246.5 L228.0 247.4 L245.0 247.4" fill="none" stroke="#b5b5b5" stroke-width="0.8" stroke-linejoin="round"/>
<path d="M194.8 222.0 L195.5 210.0 L196.3 214.0 L197.0 219.0 L197.8 208.0 L198.6 197.0 L199.5 192.3 L200.4 196.0 L201.4 195.6 L202.0 203.0 L202.7 215.2 L203.5 212.7 L204.3 213.0 L204.8 220.0 L205.6 212.0 L206.5 206.0 L207.6 204.2 L208.8 207.0 L210.4 217.6 L211.2 225.0 L212.0 233.9 L212.8 240.0 L213.6 246.1 L215.0 247.3 L228.0 247.4" fill="none" stroke="#444" stroke-width="0.9" stroke-linejoin="round"/>
<path d="M194.3 317.0 L195.5 310.0 L196.2 295.0 L199.0 295.0 L199.6 305.0 L200.1 316.0 L201.0 316.0 L202.2 262.8 L203.4 262.8 L204.7 281.0 L205.5 277.8 L207.1 287.6 L208.7 305.5 L209.5 285.0 L210.4 265.6 L211.2 270.0 L212.8 294.0 L214.4 292.5 L215.3 297.4 L217.0 288.0 L218.5 285.1 L219.7 302.3 L221.0 317.0 L223.0 317.4" fill="none" stroke="#b5b5b5" stroke-width="0.8" stroke-linejoin="round"/>
<path d="M194.3 317.3 L200.0 317.3 L201.5 316.5 L203.0 315.0 L204.5 317.0 L206.0 317.2 L207.1 316.5 L208.5 312.0 L209.6 310.4 L211.0 309.5 L212.8 308.8 L214.8 306.8 L215.6 311.0 L216.4 315.3 L217.5 308.0 L219.0 303.9 L220.5 309.0 L221.8 312.9 L224.2 311.2 L225.5 305.0 L226.7 302.3 L228.0 306.0 L229.1 308.8 L231.0 305.0 L232.7 301.4 L234.0 296.0 L234.8 290.9 L235.6 276.2 L237.3 270.5 L238.6 262.3 L239.7 272.9 L240.5 270.5 L241.8 281.0 L242.5 292.0 L243.0 303.9 L244.1 315.6 L245.5 316.8 L247.0 315.0 L248.5 316.8 L251.5 317.3" fill="none" stroke="#444" stroke-width="0.9" stroke-linejoin="round"/>
<path d="M194.3 390.6 L201.4 390.4 L202.2 376.9 L203.4 352.4 L204.7 337.8 L205.8 335.3 L207.1 339.4 L208.3 354.0 L209.2 373.6 L210.4 386.7 L211.5 390.0 L213.0 390.5" fill="none" stroke="#b5b5b5" stroke-width="0.8" stroke-linejoin="round"/>
<path d="M219.5 390.4 L221.0 386.0 L222.6 381.8 L224.0 386.0 L226.0 390.4" fill="none" stroke="#b5b5b5" stroke-width="0.8" stroke-linejoin="round"/>
<path d="M194.3 390.6 L206.3 390.5 L207.5 389.5 L208.7 388.3 L211.2 387.5 L213.6 386.7 L215.3 381.8 L216.9 370.4 L218.5 352.4 L219.8 339.4 L221.0 336.1 L221.8 340.2 L222.6 335.3 L223.7 343.5 L224.3 355.0 L224.6 358.2 L225.0 362.0 L225.5 370.4 L226.7 385.0 L227.8 390.0 L229.5 389.5 L230.7 389.0 L232.0 390.4 L251.5 390.6" fill="none" stroke="#444" stroke-width="0.9" stroke-linejoin="round"/>
<text x="274.60" y="182.80" font-size="11" text-anchor="start" font-weight="bold" fill="#000" >D</text>
<line x1="312.30" y1="208.80" x2="312.30" y2="344.40" stroke="#777" stroke-width="1"/>
<line x1="312.30" y1="344.40" x2="518.00" y2="344.40" stroke="#777" stroke-width="1"/>
<line x1="309.30" y1="208.80" x2="312.30" y2="208.80" stroke="#777" stroke-width="1"/>
<text x="308.60" y="212.40" font-size="10" text-anchor="end" font-weight="normal" fill="#222" >100</text>
<line x1="309.30" y1="242.70" x2="312.30" y2="242.70" stroke="#777" stroke-width="1"/>
<text x="308.60" y="246.30" font-size="10" text-anchor="end" font-weight="normal" fill="#222" >75</text>
<line x1="309.30" y1="276.60" x2="312.30" y2="276.60" stroke="#777" stroke-width="1"/>
<text x="308.60" y="280.20" font-size="10" text-anchor="end" font-weight="normal" fill="#222" >50</text>
<line x1="309.30" y1="310.50" x2="312.30" y2="310.50" stroke="#777" stroke-width="1"/>
<text x="308.60" y="314.10" font-size="10" text-anchor="end" font-weight="normal" fill="#222" >25</text>
<line x1="309.30" y1="344.40" x2="312.30" y2="344.40" stroke="#777" stroke-width="1"/>
<text x="308.60" y="348.00" font-size="10" text-anchor="end" font-weight="normal" fill="#222" >0</text>
<text transform="translate(285.2,271.1) rotate(-90)" font-size="11" font-weight="bold" text-anchor="middle" fill="#111">% Positive</text>
<text x="351.00" y="359.10" font-size="9.4" text-anchor="middle" font-weight="normal" fill="#222" >CD57+ CD57-</text>
<text x="351.50" y="369.50" font-size="9.4" text-anchor="middle" font-weight="normal" fill="#222" >CD28+</text>
<text x="420.00" y="359.10" font-size="9.4" text-anchor="middle" font-weight="normal" fill="#222" >CD57+ CD57-</text>
<text x="418.00" y="369.50" font-size="9.4" text-anchor="middle" font-weight="normal" fill="#222" >Granz B+</text>
<text x="485.70" y="359.10" font-size="9.4" text-anchor="middle" font-weight="normal" fill="#222" >CD57+CD57-</text>
<text x="484.80" y="369.50" font-size="9.4" text-anchor="middle" font-weight="normal" fill="#222" >Perforin+</text>
<text x="341.0" y="395.9" font-size="10.4" font-style="italic" fill="#222">P</text>
<text x="351.80" y="395.70" font-size="9.4" text-anchor="start" font-weight="normal" fill="#222" >=</text>
<text x="361.00" y="395.70" font-size="9.6" text-anchor="start" font-weight="normal" fill="#222" >.03</text>
<text x="417.00" y="395.70" font-size="9.4" text-anchor="middle" font-weight="normal" fill="#222" >0.001</text>
<text x="474.80" y="395.70" font-size="9.4" text-anchor="middle" font-weight="normal" fill="#222" >0.004</text>
<line x1="323.30" y1="337.10" x2="345.10" y2="337.10" stroke="#222" stroke-width="1"/>
<line x1="355.80" y1="293.30" x2="377.50" y2="293.30" stroke="#999" stroke-width="1"/>
<line x1="387.90" y1="246.80" x2="410.40" y2="246.80" stroke="#333" stroke-width="1"/>
<line x1="420.40" y1="302.50" x2="442.00" y2="302.50" stroke="#999" stroke-width="1.1"/>
<line x1="452.60" y1="253.80" x2="475.60" y2="253.80" stroke="#444" stroke-width="1"/>
<line x1="485.00" y1="325.00" x2="507.00" y2="325.00" stroke="#999" stroke-width="1.1"/>
<rect x="332.00" y="293.60" width="4" height="4" fill="#000" stroke="none" stroke-width="0"/>
<rect x="325.70" y="341.20" width="3.6" height="3.6" fill="#000" stroke="none" stroke-width="0"/>
<rect x="328.20" y="340.70" width="3.6" height="3.6" fill="#000" stroke="none" stroke-width="0"/>
<rect x="330.70" y="340.20" width="3.6" height="3.6" fill="#000" stroke="none" stroke-width="0"/>
<rect x="333.20" y="339.70" width="3.6" height="3.6" fill="#000" stroke="none" stroke-width="0"/>
<rect x="335.20" y="340.70" width="3.6" height="3.6" fill="#000" stroke="none" stroke-width="0"/>
<rect x="337.70" y="341.20" width="3.6" height="3.6" fill="#000" stroke="none" stroke-width="0"/>
<rect x="339.70" y="341.50" width="3.6" height="3.6" fill="#000" stroke="none" stroke-width="0"/>
<rect x="331.20" y="341.70" width="3.6" height="3.6" fill="#000" stroke="none" stroke-width="0"/>
<rect x="334.20" y="341.70" width="3.6" height="3.6" fill="#000" stroke="none" stroke-width="0"/>
<rect x="364.85" y="219.95" width="3.7" height="3.7" fill="#fff" stroke="#444" stroke-width="0.85"/>
<rect x="364.85" y="246.25" width="3.7" height="3.7" fill="#fff" stroke="#444" stroke-width="0.85"/>
<rect x="364.85" y="254.75" width="3.7" height="3.7" fill="#fff" stroke="#444" stroke-width="0.85"/>
<rect x="364.75" y="276.45" width="3.7" height="3.7" fill="#fff" stroke="#444" stroke-width="0.85"/>
<rect x="358.45" y="330.15" width="3.7" height="3.7" fill="#fff" stroke="#444" stroke-width="0.85"/>
<rect x="364.75" y="326.75" width="3.7" height="3.7" fill="#fff" stroke="#444" stroke-width="0.85"/>
<rect x="364.75" y="336.05" width="3.7" height="3.7" fill="#fff" stroke="#444" stroke-width="0.85"/>
<rect x="364.75" y="342.35" width="3.7" height="3.7" fill="#fff" stroke="#444" stroke-width="0.85"/>
<circle cx="393.20" cy="213.60" r="2.15" fill="#000" stroke="none" stroke-width="0"/>
<circle cx="398.60" cy="216.80" r="2.15" fill="#000" stroke="none" stroke-width="0"/>
<circle cx="402.10" cy="212.90" r="2.15" fill="#000" stroke="none" stroke-width="0"/>
<circle cx="405.70" cy="214.30" r="2.15" fill="#000" stroke="none" stroke-width="0"/>
<circle cx="398.60" cy="223.60" r="2.15" fill="#000" stroke="none" stroke-width="0"/>
<circle cx="398.60" cy="242.90" r="2.15" fill="#000" stroke="none" stroke-width="0"/>
<circle cx="405.70" cy="242.90" r="2.15" fill="#000" stroke="none" stroke-width="0"/>
<circle cx="398.60" cy="264.60" r="2.15" fill="#000" stroke="none" stroke-width="0"/>
<circle cx="398.60" cy="271.40" r="2.15" fill="#000" stroke="none" stroke-width="0"/>
<circle cx="398.60" cy="281.40" r="2.15" fill="#000" stroke="none" stroke-width="0"/>
<circle cx="398.60" cy="332.10" r="2.15" fill="#000" stroke="none" stroke-width="0"/>
<circle cx="431.50" cy="241.50" r="1.95" fill="#fff" stroke="#333" stroke-width="0.9"/>
<circle cx="437.40" cy="239.30" r="1.95" fill="#fff" stroke="#333" stroke-width="0.9"/>
<circle cx="431.50" cy="267.70" r="1.95" fill="#fff" stroke="#333" stroke-width="0.9"/>
<circle cx="431.30" cy="302.00" r="1.95" fill="#fff" stroke="#333" stroke-width="0.9"/>
<circle cx="425.20" cy="309.70" r="1.95" fill="#fff" stroke="#333" stroke-width="0.9"/>
<circle cx="431.30" cy="310.60" r="1.95" fill="#fff" stroke="#333" stroke-width="0.9"/>
<circle cx="437.30" cy="316.00" r="1.95" fill="#fff" stroke="#333" stroke-width="0.9"/>
<circle cx="431.30" cy="321.50" r="1.95" fill="#fff" stroke="#333" stroke-width="0.9"/>
<circle cx="431.30" cy="332.70" r="1.95" fill="#fff" stroke="#333" stroke-width="0.9"/>
<circle cx="431.30" cy="344.60" r="1.95" fill="#fff" stroke="#333" stroke-width="0.9"/>
<circle cx="437.30" cy="344.60" r="1.95" fill="#fff" stroke="#333" stroke-width="0.9"/>
<path d="M463.80 208.82 L466.00 213.08 L461.60 213.08 Z" fill="#000" stroke="none" stroke-width="0"/>
<path d="M463.80 222.42 L466.00 226.68 L461.60 226.68 Z" fill="#000" stroke="none" stroke-width="0"/>
<path d="M463.80 233.32 L466.00 237.58 L461.60 237.58 Z" fill="#000" stroke="none" stroke-width="0"/>
<path d="M463.80 248.92 L466.00 253.18 L461.60 253.18 Z" fill="#000" stroke="none" stroke-width="0"/>
<path d="M463.80 299.72 L466.00 303.98 L461.60 303.98 Z" fill="#000" stroke="none" stroke-width="0"/>
<path d="M470.00 297.92 L472.20 302.18 L467.80 302.18 Z" fill="#000" stroke="none" stroke-width="0"/>
<path d="M496.00 285.11 L498.10 289.19 L493.90 289.19 Z" fill="#fff" stroke="#333" stroke-width="0.85"/>
<path d="M496.00 305.11 L498.10 309.19 L493.90 309.19 Z" fill="#fff" stroke="#333" stroke-width="0.85"/>
<path d="M496.00 319.31 L498.10 323.39 L493.90 323.39 Z" fill="#fff" stroke="#333" stroke-width="0.85"/>
<path d="M489.70 342.81 L491.80 346.89 L487.60 346.89 Z" fill="#fff" stroke="#333" stroke-width="0.85"/>
<path d="M496.00 342.81 L498.10 346.89 L493.90 346.89 Z" fill="#fff" stroke="#333" stroke-width="0.85"/>
<path d="M502.00 342.81 L504.10 346.89 L499.90 346.89 Z" fill="#fff" stroke="#333" stroke-width="0.85"/>
</svg>
</body></html>
